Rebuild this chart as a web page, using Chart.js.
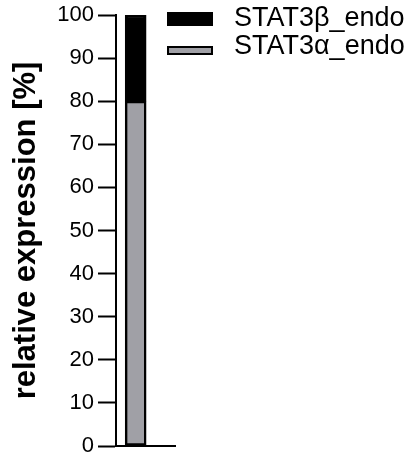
<!DOCTYPE html>
<html>
<head>
<meta charset="utf-8">
<script src="https://cdn.jsdelivr.net/npm/chart.js@4/dist/chart.umd.min.js"></script>
<style>
  html, body { margin: 0; padding: 0; background: #fff; }
  #wrap { width: 408px; height: 455px; }
</style>
</head>
<body>
<div id="wrap"><canvas id="myChart"></canvas></div>
<script>
const categories = ["endo"];
const alphaValues = [80];
const betaValues = [20];
const seriesNames = ["STAT3α_endo", "STAT3β_endo"];
const yTicks = [0, 10, 20, 30, 40, 50, 60, 70, 80, 90, 100];

const GRAY = "#a0a0a6";
const FONT = "'Liberation Sans', Arial, sans-serif";

const canvas = document.getElementById("myChart");
const ctx = canvas.getContext("2d");

const toPoints = (values) => values.map((v, i) => ({ x: i, y: v }));

// legend drawn by hand: top entry first, boxes of different heights
const sideLegend = {
  id: "sideLegend",
  afterDraw(chart) {
    const c = chart.ctx;
    const rows = [
      { ds: 1, top: 12, h: 14, baseline: 26 },
      { ds: 0, top: 46, h: 9, baseline: 54 },
    ];
    c.save();
    c.font = "27px " + FONT;
    c.textBaseline = "alphabetic";
    rows.forEach((r) => {
      const ds = chart.data.datasets[r.ds];
      c.fillStyle = ds.backgroundColor;
      c.fillRect(167, r.top, 46, r.h);
      c.strokeStyle = "#000";
      c.lineWidth = 2;
      c.strokeRect(168, r.top + 1, 44, r.h - 2);
      c.fillStyle = "#000";
      c.fillText(ds.label, 234, r.baseline);
    });
    c.restore();
  },
};

const myChart = new Chart(ctx, {
  type: "bar",
  data: {
    datasets: [
      {
        label: seriesNames[0],
        data: toPoints(alphaValues),
        backgroundColor: GRAY,
        borderColor: "#000",
        borderWidth: 2.5,
        borderSkipped: false,
        barThickness: 21,
      },
      {
        label: seriesNames[1],
        data: toPoints(betaValues),
        backgroundColor: "#000",
        borderColor: "#000",
        borderWidth: 2.5,
        borderSkipped: false,
        barThickness: 21,
      },
    ],
  },
  options: {
    responsive: true,
    maintainAspectRatio: false,
    animation: false,
    layout: {
      padding: { top: 15, right: 233, bottom: 9, left: 0 },
    },
    plugins: {
      legend: { display: false },
      tooltip: { enabled: false },
    },
    scales: {
      x: {
        type: "linear",
        stacked: true,
        offset: false,
        bounds: "data",
        min: -0.5,
        max: 1,
        grid: { display: false, drawTicks: false, offset: false },
        ticks: { display: false },
        border: { display: true, color: "#000", width: 2 },
        afterFit: (scale) => {
          scale.height = 0;
        },
      },
      y: {
        stacked: true,
        min: 0,
        max: 100,
        afterBuildTicks: (scale) => {
          scale.ticks = yTicks.map((v) => ({ value: v }));
        },
        grid: {
          drawOnChartArea: false,
          drawTicks: true,
          tickLength: 18,
          tickWidth: 2,
          tickColor: "#000",
        },
        border: { display: true, color: "#000", width: 2 },
        ticks: {
          color: "#000",
          padding: 4,
          font: { family: FONT, size: 22 },
        },
        title: {
          display: true,
          text: "relative expression [%]",
          color: "#000",
          padding: { top: 8, bottom: 0 },
          font: { family: FONT, size: 31, weight: "bold" },
        },
        afterFit: (scale) => {
          scale.width = 116;
          // keep the labels from shrinking the plot area
          scale.paddingTop = 0;
          scale.paddingBottom = 0;
        },
      },
    },
  },
  plugins: [sideLegend],
});
</script>
</body>
</html>
